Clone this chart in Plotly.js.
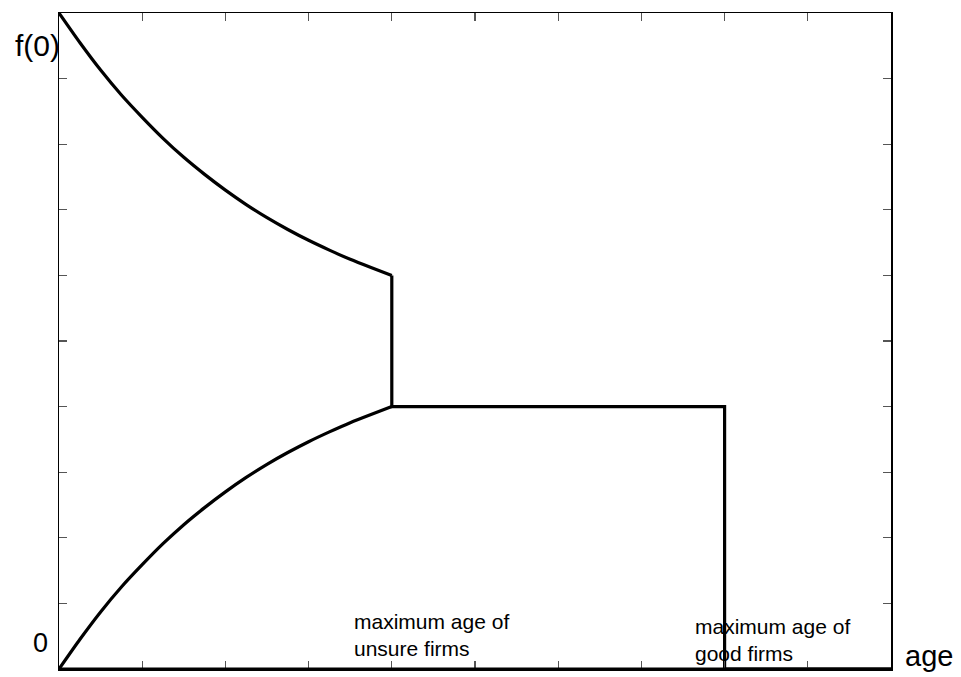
<!DOCTYPE html>
<html>
<head>
<meta charset="utf-8">
<script src="https://cdn.plot.ly/plotly-3.0.1.min.js"></script>
<style>html,body{margin:0;padding:0;background:#fff;}#chart{width:961px;height:677px;}</style>
</head>
<body>
<div id="chart"></div>
<script>
// Data (x: age 0..10, y: 0..10 where 10 = f(0))
var upperAge = [0, 0.25, 0.5, 0.75, 1, 1.25, 1.5, 1.75, 2, 2.25, 2.5, 2.75, 3, 3.25, 3.5, 3.75, 4];
var upperVal = [10, 9.55, 9.13, 8.75, 8.41, 8.09, 7.80, 7.54, 7.30, 7.08, 6.88, 6.70, 6.535, 6.385, 6.245, 6.12, 6.0];
var lowerAge = [0, 0.25, 0.5, 0.75, 1, 1.25, 1.5, 1.75, 2, 2.25, 2.5, 2.75, 3, 3.25, 3.5, 3.75, 4];
var lowerVal = [0, 0.45, 0.87, 1.25, 1.59, 1.91, 2.20, 2.46, 2.70, 2.92, 3.12, 3.30, 3.465, 3.615, 3.755, 3.88, 4.0];
var stepAge = [4, 4, 8, 8, 10];
var stepVal = [6, 4, 4, 0, 0];
var tickVals = [0, 1, 2, 3, 4, 5, 6, 7, 8, 9, 10];
var labelUnsure = 'maximum age of<br>unsure firms';
var labelGood = 'maximum age of<br>good firms';

var lineStyle = {color: '#000', width: 3.2};
var traces = [
  {x: upperAge, y: upperVal, mode: 'lines', line: Object.assign({shape: 'spline', smoothing: 0.6}, lineStyle), hoverinfo: 'skip'},
  {x: lowerAge, y: lowerVal, mode: 'lines', line: Object.assign({shape: 'spline', smoothing: 0.6}, lineStyle), hoverinfo: 'skip'},
  {x: stepAge, y: stepVal, mode: 'lines', line: Object.assign({shape: 'linear'}, lineStyle), hoverinfo: 'skip'}
];

var font = {family: 'Liberation Sans, Arial, sans-serif', color: '#000'};
function f(sz) { return Object.assign({size: sz}, font); }

var layout = {
  width: 961, height: 677,
  margin: {l: 59, r: 70, t: 13, b: 8},
  paper_bgcolor: '#fff', plot_bgcolor: '#fff',
  showlegend: false,
  xaxis: {
    range: [0, 10], tickvals: tickVals, showticklabels: false,
    ticks: 'inside', ticklen: 8, tickwidth: 1.2, tickcolor: '#555',
    showline: true, linecolor: '#000', linewidth: 1.5, mirror: 'ticks',
    showgrid: false, zeroline: false, fixedrange: true
  },
  yaxis: {
    range: [0, 10], tickvals: tickVals, showticklabels: false,
    ticks: 'inside', ticklen: 8, tickwidth: 1.2, tickcolor: '#555',
    showline: true, linecolor: '#000', linewidth: 1.5, mirror: 'ticks',
    showgrid: false, zeroline: false, fixedrange: true
  },
  shapes: [
    {type: 'line', xref: 'paper', yref: 'paper', x0: 0, x1: 1, y0: 0, y1: 0, line: {color: '#000', width: 3}}
  ],
  annotations: [
    {text: 'f(0)', xref: 'paper', yref: 'y', x: 0, y: 9.5, xanchor: 'right', yanchor: 'middle', showarrow: false, font: f(30), xshift: 3},
    {text: '0', xref: 'paper', yref: 'y', x: 0, y: 0.4, xanchor: 'right', yanchor: 'middle', showarrow: false, font: f(27), xshift: -9},
    {text: 'age', xref: 'paper', yref: 'y', x: 1, y: 0.2, xanchor: 'left', yanchor: 'middle', showarrow: false, font: f(29), xshift: 12},
    {text: labelUnsure, xref: 'x', yref: 'y', x: 3.52, y: 0.52, xanchor: 'left', yanchor: 'middle', align: 'left', showarrow: false, font: f(21)},
    {text: labelGood, xref: 'x', yref: 'y', x: 7.62, y: 0.44, xanchor: 'left', yanchor: 'middle', align: 'left', showarrow: false, font: f(21)}
  ]
};

Plotly.newPlot('chart', traces, layout, {displayModeBar: false, staticPlot: true});
</script>
</body>
</html>
